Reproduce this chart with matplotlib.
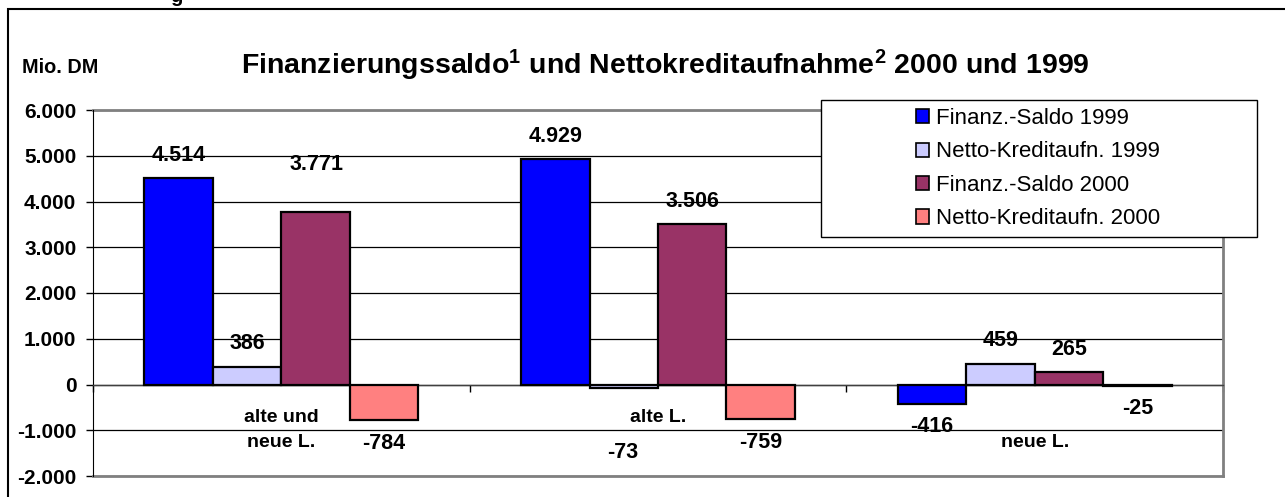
import numpy as np
import matplotlib
matplotlib.use("Agg")
import matplotlib.pyplot as plt
from matplotlib.patches import Rectangle, Patch
from matplotlib.ticker import FuncFormatter, FixedLocator

plt.rcParams['font.family'] = ['Liberation Sans', 'DejaVu Sans']
plt.rcParams['mathtext.fontset'] = 'custom'
plt.rcParams['mathtext.rm'] = 'Liberation Sans:bold'
plt.rcParams['mathtext.it'] = 'Liberation Sans:bold'
plt.rcParams['mathtext.bf'] = 'Liberation Sans:bold'

## data
categories = ["alte und\nneue L.", "alte L.", "\nneue L."]
series_names = ["Finanz.-Saldo 1999", "Netto-Kreditaufn. 1999",
                "Finanz.-Saldo 2000", "Netto-Kreditaufn. 2000"]
saldo_1999 = [4514, 4929, -416]
kredit_1999 = [386, -73, 459]
saldo_2000 = [3771, 3506, 265]
kredit_2000 = [-784, -759, -25]
yticks = [-2000, -1000, 0, 1000, 2000, 3000, 4000, 5000, 6000]

series = [saldo_1999, kredit_1999, saldo_2000, kredit_2000]
colors = ["#0000FF", "#CCCCFF", "#993366", "#FF8080"]

# label nudges (series index, category index) -> extra offset in points
nudge = {(2, 0): (1, 18), (1, 1): (-1, -30)}

def de(v):
    return f"{int(v):,}".replace(",", ".")

W, H = 1285, 497
fig = plt.figure(figsize=(W / 100, H / 100), dpi=100)
ax = fig.add_axes([93 / W, 1 - 476 / H, (1223 - 93) / W, (476 - 110) / H])

x = np.arange(len(categories))
bw = 1 / 5.5
for i, vals in enumerate(series):
    xpos = x + (i - 1.5) * bw
    ax.bar(xpos, vals, width=bw, color=colors[i], edgecolor="black",
           linewidth=1.6, zorder=3)
    for j, v in enumerate(vals):
        dx, dy = nudge.get((i, j), (0, 0))
        off = 16.5 if v >= 0 else -16.5
        ax.annotate(de(v), (xpos[j], v), xytext=(dx, off + dy),
                    textcoords="offset points", ha="center", va="center",
                    fontsize=15.5, fontweight="bold", zorder=4)

for j, c in enumerate(categories):
    ax.annotate(c, (x[j], 0), xytext=(0, -17.5), textcoords="offset points",
                ha="center", va="top", fontsize=14, fontweight="bold",
                linespacing=1.65)

ax.set_xlim(-0.5, 2.5)
ax.set_ylim(-2000, 6000)
ax.yaxis.set_major_locator(FixedLocator(yticks))
ax.yaxis.set_major_formatter(FuncFormatter(lambda v, p: de(v)))
ax.grid(axis="y", color="black", linewidth=0.9, zorder=1)
ax.set_axisbelow(True)

ax.xaxis.set_major_locator(FixedLocator([-0.5, 0.5, 1.5, 2.5]))
ax.set_xticklabels([])
ax.spines["bottom"].set_position(("data", 0))
ax.spines["bottom"].set_color("#404040")
ax.spines["bottom"].set_linewidth(1.0)
ax.tick_params(axis="x", direction="out", length=5, width=1)
ax.tick_params(axis="y", direction="out", length=5, width=1, pad=7,
               labelsize=15)
for lab in ax.get_yticklabels():
    lab.set_fontweight("bold")
ax.spines["left"].set_color("black")
ax.spines["top"].set_visible(False)
ax.spines["right"].set_color("#808080")
ax.spines["right"].set_linewidth(2)
# plot area frame at top and bottom
ax.plot([0, 1], [1, 1], transform=ax.transAxes, color="#808080", lw=2,
        clip_on=False, zorder=2)
ax.plot([0, 1], [0, 0], transform=ax.transAxes, color="#808080", lw=2,
        clip_on=False, zorder=2)

# outer frame
fig.add_artist(Rectangle((8 / W, -0.1), 2, 1 - 9 / H + 0.1,
                         transform=fig.transFigure, fill=False,
                         edgecolor="black", linewidth=1.5))
fig.text(176 / W, 1 - 2 / H, "g", fontsize=14.5, fontweight="bold",
         ha="center", va="baseline")

fig.text(22 / W, 1 - 73 / H, "Mio. DM", fontsize=14.3, fontweight="bold",
         ha="left", va="baseline")
fig.text(665 / W, 1 - 74 / H,
         "Finanzierungssaldo$^{1}$ und Nettokreditaufnahme$^{2}$ 2000 und 1999",
         fontsize=20.5, fontweight="bold", ha="center", va="baseline")

# legend box
fig.add_artist(Rectangle((821 / W, 1 - 237 / H), 436 / W, 137 / H,
                         transform=fig.transFigure, facecolor="white",
                         edgecolor="black", linewidth=1, zorder=3))
handles = [Patch(facecolor=c, edgecolor="black", linewidth=1.2) for c in colors]
leg = fig.legend(handles, series_names, loc="upper left",
                 bbox_to_anchor=(916 / W, 1 - 108 / H), frameon=False,
                 fontsize=16, handlelength=0.6, handleheight=0.6,
                 handletextpad=0.3, labelspacing=0.56, borderpad=0,
                 borderaxespad=0)
leg.set_zorder(5)

fig.savefig("out.png", dpi=100)
